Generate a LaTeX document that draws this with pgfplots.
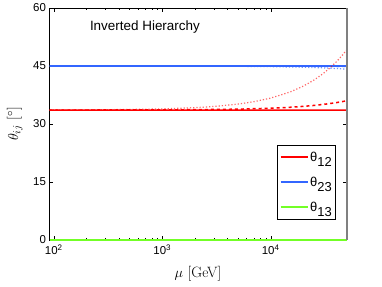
\documentclass[border=0pt]{standalone}
\usepackage{fontspec}
\setmainfont{Liberation Sans}
\newfontfamily\lmr{Latin Modern Roman}
\usepackage{pgfplots}
\pgfplotsset{compat=1.18}
\definecolor{mred}{rgb}{1,0,0}
\definecolor{mblue}{rgb}{0.2,0.4,1}
\definecolor{mgreen}{rgb}{0.45,1,0.15}
\begin{document}
\begin{tikzpicture}
\useasboundingbox (-49.5bp,-47bp) rectangle (332.5bp,240bp);
\begin{semilogxaxis}[
  at={(0,0)}, anchor=south west,
  scale only axis, width=297bp, height=232bp,
  xmin=91.19, xmax=50000, ymin=0, ymax=60,
  ytick={0,15,30,45,60},
  xtick={100,1000,10000},
  xticklabels={10\textsuperscript{2},10\textsuperscript{3},10\textsuperscript{4}},
  /pgf/number format/assume math mode=true,
  tick align=inside,
  major tick length=4bp, minor tick length=2bp,
  tick style={black, line width=0.4bp},
  axis line style={line width=0.5bp},
  ticklabel style={font=\fontsize{11.5}{13}\selectfont},
  xticklabel style={yshift=-1bp},
  xlabel={$\mu$ [GeV]},
  ylabel={$\theta_{ij}$ [$^\circ$]},
  label style={font=\fontsize{15}{17}\selectfont\lmr},
  xlabel style={yshift=-5bp},
  ylabel style={yshift=4bp},
  legend style={at={(rel axis cs:0.963,0.087)}, anchor=south east,
    draw=black, line width=0.6bp, font=\fontsize{13}{15}\selectfont,
    row sep=10bp, inner xsep=2bp, inner ysep=5bp,
    nodes={inner xsep=1.5bp}},
  legend image code/.code={\draw[#1] (0bp,0bp) -- (27bp,0bp);},
  legend cell align=left,
  clip=false,
]
\addlegendimage{mred, line width=2bp}
\addlegendentry{θ\raisebox{-0.75ex}{12}}
\addlegendimage{mblue, line width=2bp}
\addlegendentry{θ\raisebox{-0.75ex}{23}}
\addlegendimage{mgreen, line width=2bp}
\addlegendentry{θ\raisebox{-0.75ex}{13}}
% solid
\addplot[mred, line width=1.5bp, forget plot] coordinates {(91.19,33.6) (50000,33.62)};
\addplot[mblue, line width=1.5bp, forget plot] coordinates {(91.19,45) (50000,45)};
\addplot[mgreen, line width=1.8bp, forget plot] coordinates {(91.19,0) (50000,0)};
% dashed
\addplot[mred, line width=1.5bp, dashed, forget plot] coordinates {
(91.19,33.60) (1000,33.65) (2000,33.70) (5000,33.84) (10000,34.08) (15000,34.32)
(20000,34.56) (25000,34.80) (30000,35.04) (35000,35.28) (40000,35.52) (45000,35.76) (50000,36.00)};
\addplot[mblue, line width=1.5bp, dashed, forget plot] coordinates {
(91.19,45.0) (10000,44.97) (20000,44.95) (30000,44.92) (40000,44.90) (50000,44.87)};
% dotted
\addplot[mred, line width=1.2bp, dotted, forget plot, opacity=0.6] coordinates {
(91.19,33.63) (200,33.66) (500,33.76) (1000,33.91) (2000,34.22) (3000,34.53) (5000,35.15)
(7000,35.77) (10000,36.70) (15000,38.25) (20000,39.80) (25000,41.35) (30000,42.90)
(35000,44.45) (40000,46.00) (45000,47.55) (50000,49.10)};
\addplot[mblue, line width=1.2bp, dotted, forget plot, opacity=0.7] coordinates {
(91.19,45.0) (5000,44.92) (10000,44.84) (20000,44.68) (30000,44.52) (40000,44.36) (50000,44.20)};
\draw[gray, line width=2bp] (rel axis cs:1,0) -- (rel axis cs:1,1);
\node[anchor=west, font=\fontsize{13.5}{15}\selectfont] at (axis cs:200,55) {Inverted Hierarchy};
\end{semilogxaxis}
\end{tikzpicture}
\end{document}
